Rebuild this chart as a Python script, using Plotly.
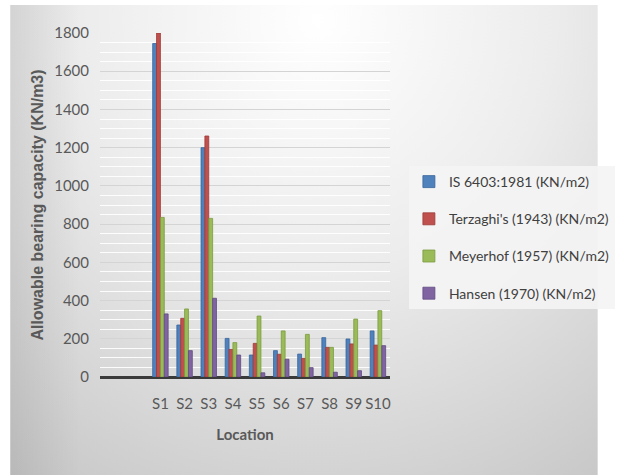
import base64
import plotly.graph_objects as go

# Allowable bearing capacity at each location, per method
locations = ["S1", "S2", "S3", "S4", "S5", "S6", "S7", "S8", "S9", "S10"]
is_6403 = [1745, 272, 1200, 202, 115, 138, 120, 206, 199, 241]
terzaghi = [1800, 307, 1261, 145, 176, 119, 98, 155, 173, 167]
meyerhof = [835, 356, 830, 180, 319, 241, 223, 155, 303, 347]
hansen = [330, 138, 412, 115, 22, 93, 49, 25, 33, 164]

series_names = [
    "IS 6403:1981 (KN/m2)",
    "Terzaghi's (1943) (KN/m2)",
    "Meyerhof (1957) (KN/m2)",
    "Hansen (1970) (KN/m2)",
]
series_values = [is_6403, terzaghi, meyerhof, hansen]
fill_colors = ["#4f81bd", "#c0504d", "#9bbb59", "#8064a2"]
edge_colors = ["#3a659a", "#9c3a37", "#7a9a3e", "#5f4a80"]

# two empty leading slots on the category axis
blank_slots = [" ", "  "]
category_order = blank_slots + locations

W, H = 627, 475
ML, MR, MT, MB = 100, 220, 33, 98
pw, ph = W - ML - MR, H - MT - MB

# soft grey background gradient
svg = f"""<svg xmlns='http://www.w3.org/2000/svg' width='{W}' height='{H}' viewBox='0 0 {W} {H}'>
<defs>
<radialGradient id='g' gradientUnits='userSpaceOnUse' cx='330' cy='20' r='560'>
<stop offset='0' stop-color='#ffffff'/><stop offset='0.45' stop-color='#ececec'/><stop offset='1' stop-color='#c6c6c6'/>
</radialGradient>
<linearGradient id='l' x1='0' y1='0' x2='1' y2='0'>
<stop offset='0' stop-color='#000000' stop-opacity='0.07'/><stop offset='0.12' stop-color='#000000' stop-opacity='0'/>
</linearGradient>
</defs>
<rect x='0' y='0' width='{W}' height='{H}' fill='#ffffff'/>
<rect x='5' y='5' width='{W-5}' height='{H-5}' fill='url(#g)'/>
<rect x='5' y='5' width='{W-5}' height='{H-5}' fill='url(#l)'/>
</svg>"""
bg_uri = "data:image/svg+xml;base64," + base64.b64encode(svg.encode()).decode()

fig = go.Figure()
for name, vals, fc, ec in zip(series_names, series_values, fill_colors, edge_colors):
    fig.add_trace(go.Bar(
        name=name,
        x=locations,
        y=vals,
        legendgroup=name,
        marker=dict(color=fc, line=dict(color=ec, width=0.8)),
    ))

font_family = "Lato, Open Sans, sans-serif"

fig.update_layout(
    width=W,
    height=H,
    margin=dict(l=ML, r=MR, t=MT, b=MB),
    barmode="group",
    bargap=0.36,
    bargroupgap=0.0,
    paper_bgcolor="#ffffff",
    plot_bgcolor="rgba(0,0,0,0)",
    font=dict(family=font_family, color="#595959", size=15),
    images=[dict(
        source=bg_uri,
        xref="paper", yref="paper",
        x=-ML / pw, y=1 + MT / ph,
        sizex=W / pw, sizey=H / ph,
        xanchor="left", yanchor="top",
        sizing="stretch",
        layer="below",
    )],
    legend=dict(
        x=(427 - ML) / pw,
        y=(H - MB - 166) / ph,
        xanchor="left",
        yanchor="top",
        bgcolor="rgba(244,244,244,0.9)",
        font=dict(size=14, color="#404040", family=font_family),
        tracegroupgap=16,
        itemwidth=30,
        traceorder="grouped",
    ),
    xaxis=dict(
        type="category",
        categoryorder="array",
        categoryarray=category_order,
        range=[-0.5, len(category_order) - 0.5],
        showgrid=False,
        showline=False,
        ticks="",
        tickfont=dict(size=15, color="#595959"),
        ticklabelstandoff=16,
        title=dict(text="<b>Location</b>", font=dict(size=15, color="#595959"), standoff=18),
    ),
    yaxis=dict(
        range=[0, 1800],
        tickvals=[0, 200, 400, 600, 800, 1000, 1200, 1400, 1600, 1800],
        showgrid=True,
        gridcolor="#d4d4d4",
        gridwidth=1,
        minor=dict(dtick=50, showgrid=True, gridcolor="rgba(255,255,255,0.9)", gridwidth=1),
        zeroline=True,
        zerolinecolor="#3a3a3a",
        zerolinewidth=2.5,
        showline=False,
        ticks="",
        tickfont=dict(size=15, color="#595959"),
        ticklabelstandoff=10,
        title=dict(
            text="<b>Allowable bearing capacity (KN/m3)</b>",
            font=dict(size=16, color="#595959", family="Liberation Sans, Arial, sans-serif"),
            standoff=6,
        ),
    ),
)

fig.write_html("out.html")
